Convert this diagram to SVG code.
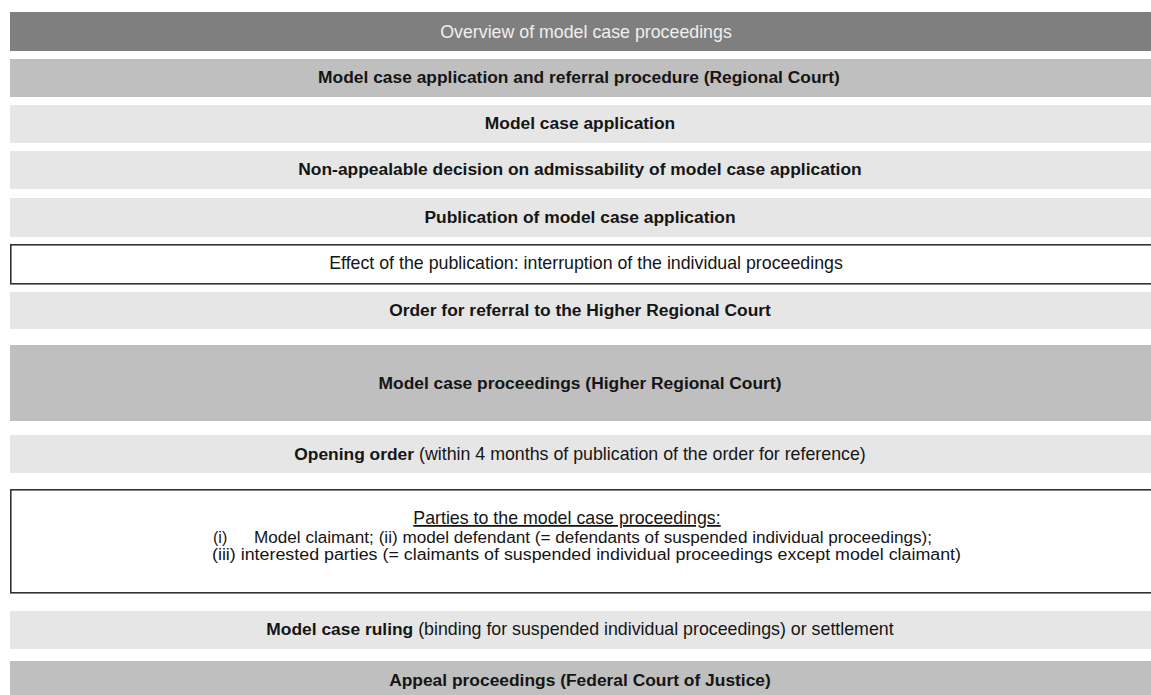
<svg xmlns="http://www.w3.org/2000/svg" width="1151" height="695" viewBox="0 0 1151 695">
<style>
.dark{fill:#7f7f7f}
.mid{fill:#bfbfbf}
.light{fill:#e6e6e6}
.box{fill:#ffffff;stroke:#333333;stroke-width:1.6}
text{font-family:"Liberation Sans",Arial,sans-serif;font-size:17.8px;fill:#151515}
.c{text-anchor:middle}
.b{font-weight:bold;font-size:17.4px}
.title{fill:#efefef}
.s{font-size:16px}
</style>
<rect width="1151" height="695" fill="#ffffff"/>
<g id="title"><rect class="dark" x="10" y="12" width="1145" height="39"/><text class="c title" x="586" y="38">Overview of model case proceedings</text></g>
<g id="regional"><rect class="mid" x="10" y="59" width="1145" height="38"/><text class="c b" x="579" y="83">Model case application and referral procedure (Regional Court)</text></g>
<g id="application"><rect class="light" x="10" y="105" width="1145" height="38"/><text class="c b" x="580" y="129">Model case application</text></g>
<g id="decision"><rect class="light" x="10" y="151" width="1145" height="38"/><text class="c b" x="580" y="175">Non-appealable decision on admissability of model case application</text></g>
<g id="publication"><rect class="light" x="10" y="198" width="1145" height="39"/><text class="c b" x="580" y="222.5">Publication of model case application</text></g>
<g id="effect"><rect class="box" x="10.8" y="244.8" width="1150" height="39"/><text class="c" x="586" y="269">Effect of the publication: interruption of the individual proceedings</text></g>
<g id="referral"><rect class="light" x="10" y="292" width="1145" height="37"/><text class="c b" x="580" y="316">Order for referral to the Higher Regional Court</text></g>
<g id="higher"><rect class="mid" x="10" y="345" width="1145" height="76"/><text class="c b" x="580" y="388.5">Model case proceedings (Higher Regional Court)</text></g>
<g id="opening"><rect class="light" x="10" y="435" width="1145" height="38"/><text class="c" x="580" y="460"><tspan class="b">Opening order</tspan> (within 4 months of publication of the order for reference)</text></g>
<g id="parties"><rect class="box" x="10.8" y="489.8" width="1150" height="103"/>
<text class="c" x="567" y="524" text-decoration="underline">Parties to the model case proceedings:</text>
<text class="s" x="213" y="543">(i)</text><text class="s" x="254" y="543" textLength="678" lengthAdjust="spacingAndGlyphs">Model claimant; (ii) model defendant (= defendants of suspended individual proceedings);</text>
<text class="s" x="212" y="560" textLength="749" lengthAdjust="spacingAndGlyphs">(iii) interested parties (= claimants of suspended individual proceedings except model claimant)</text></g>
<g id="ruling"><rect class="light" x="10" y="611" width="1145" height="38"/><text class="c" x="580" y="635"><tspan class="b">Model case ruling</tspan> (binding for suspended individual proceedings) or settlement</text></g>
<g id="appeal"><rect class="mid" x="10" y="661" width="1145" height="40"/><text class="c b" x="580" y="686">Appeal proceedings (Federal Court of Justice)</text></g>
<g id="connectors"></g>
</svg>
